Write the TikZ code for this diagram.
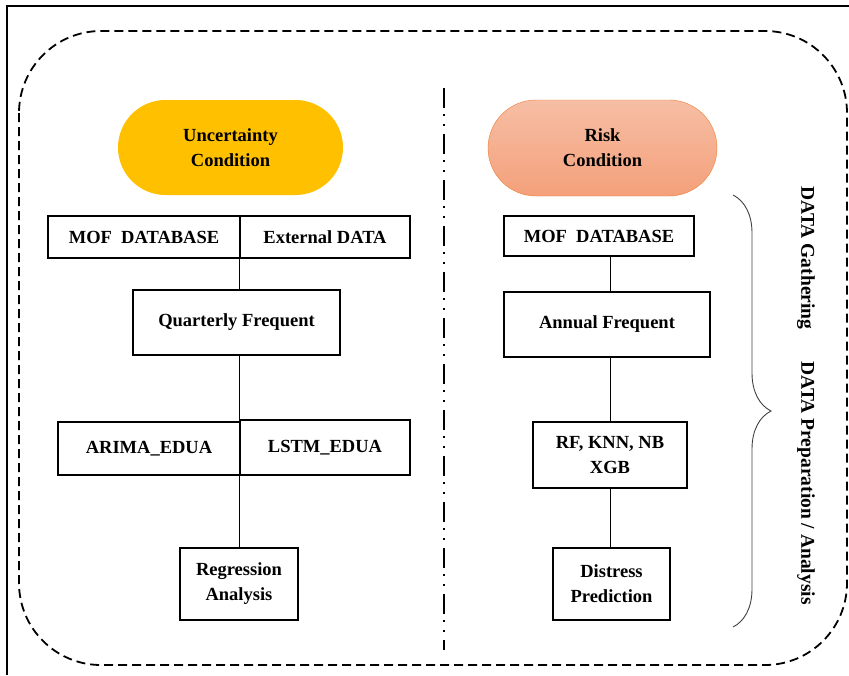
\documentclass[tikz,border=0pt]{standalone}
\usepackage{fontspec}
\setmainfont{Liberation Serif}
\usetikzlibrary{shapes.misc,decorations.pathreplacing}
\definecolor{gold}{RGB}{255,192,0}
\definecolor{salmontop}{RGB}{246,190,165}
\definecolor{salmonbot}{RGB}{244,160,122}
\definecolor{salmonline}{RGB}{237,125,49}

\begin{document}
\begin{tikzpicture}[x=1pt,y=-1pt,
  box/.style={draw,line width=1.4pt,align=center,inner sep=0pt,font=\fontsize{18.5}{25}\selectfont\bfseries},
  pill/.style={rounded rectangle,align=center,inner sep=0pt,font=\fontsize{18.5}{25}\selectfont\bfseries}]
\useasboundingbox (0,0) rectangle (849,675);
% outer frame and dashed outline
\draw[line width=1.5pt] (7,675) -- (7,6) -- (849,6);
\draw[line width=1.8pt,dash pattern=on 9pt off 5pt,rounded corners=82pt] (19,31) rectangle (847,665);
\draw[line width=1.4pt,dash pattern=on 20pt off 6pt on 2pt off 8pt on 2pt off 8pt] (444,88) -- (444,650);
% uncertainty side
\node[pill,fill=gold,minimum width=225,minimum height=95] (uncert) at (230.5,147.5) {Uncertainty\\Condition};
\node[box,minimum width=192,minimum height=42] (mofL) at (144,237) {MOF~~DATABASE};
\node[box,minimum width=170,minimum height=42] (extL) at (325,237) {External DATA};
\node[box,minimum width=207,minimum height=65] (quart) at (236.5,322.5) {Quarterly Frequent};
\node[box,minimum width=182,minimum height=53] (arima) at (149,448.5) {ARIMA\_EDUA};
\node[box,minimum width=170,minimum height=55] (lstm) at (325,447.5) {LSTM\_EDUA};
\node[box,minimum width=118,minimum height=72] (regr) at (239,584) {Regression\\Analysis};
\draw[line width=0.8pt] (extL.south west) -- (extL.south west |- quart.north);
\draw[line width=0.8pt] (quart.south -| lstm.north west) -- (lstm.north west);
\draw[line width=0.8pt] (lstm.south west) -- (lstm.south west |- regr.north);
% risk side
\node[pill,draw=salmonline,top color=salmontop,bottom color=salmonbot,minimum width=229,minimum height=96] (risk) at (602.5,148) {Risk\\Condition};
\node[box,minimum width=190,minimum height=40] (mofR) at (599,236) {MOF~~DATABASE};
\node[box,minimum width=206,minimum height=65] (annual) at (607,324.5) {Annual Frequent};
\node[box,minimum width=154,minimum height=66] (models) at (610,455) {RF, KNN, NB\\XGB};
\node[box,minimum width=117,minimum height=72] (distress) at (611.5,584) {Distress\\Prediction};
\draw[line width=0.8pt] (mofR.south -| models.north) -- (annual.north -| models.north);
\draw[line width=0.8pt] (annual.south -| models.north) -- (models.north);
\draw[line width=0.8pt] (models.south) -- (distress.north -| models.south);
% brace and stage labels
\draw[decorate,decoration={brace,amplitude=38pt},line width=0.9pt,black!75] (733,195) -- (733,627);
\node[rotate=-90,font=\fontsize{19.5}{22}\selectfont\bfseries] (gather) at (806,258) {DATA Gathering};
\node[rotate=-90,font=\fontsize{19.5}{22}\selectfont\bfseries] (prep) at (806,483) {DATA Preparation / Analysis};
\end{tikzpicture}
\end{document}
